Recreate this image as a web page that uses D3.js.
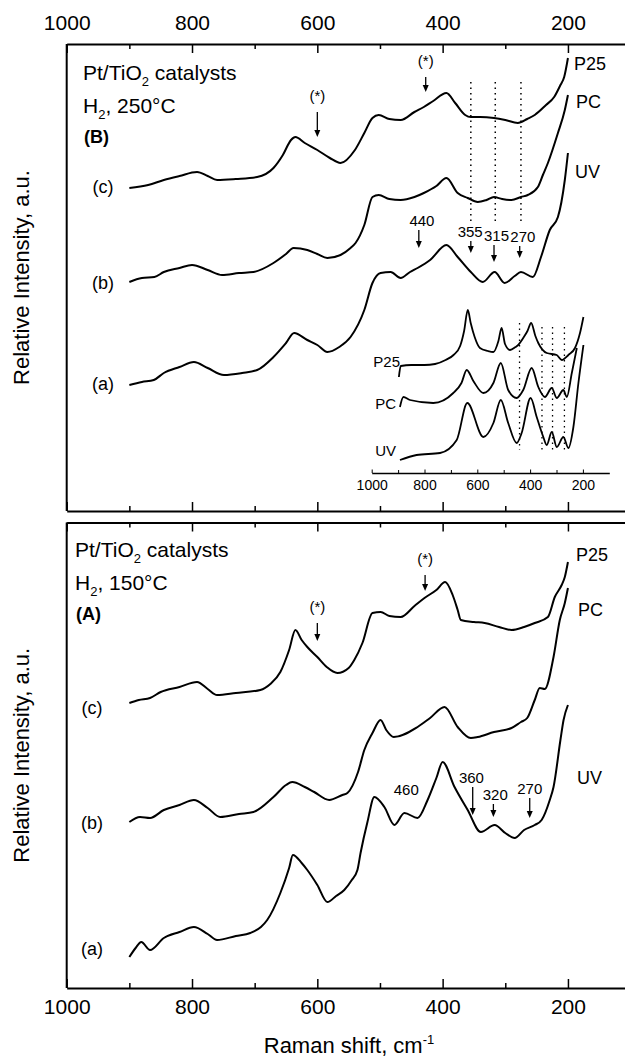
<!DOCTYPE html>
<html>
<head>
<meta charset="utf-8">
<script src="https://cdn.jsdelivr.net/npm/d3@7"></script>
<style>
  body { margin: 0; background: #fff; }
  svg text { font-family: "Liberation Sans", Arial, sans-serif; fill: #000; }
</style>
</head>
<body>
<div id="chart"></div>
<script>
// Raman shift ticks (cm-1)
const majorTicks = [1000, 800, 600, 400, 200];
const minorTicks = [900, 700, 500, 300, 100];

// Panel B (H2, 250°C): [Raman shift, relative intensity]
const b250_P25 = [[900,323],[870,326],[845,331],[820,335],[792,339],[775,335],[760,331],[730,332],[696,334],[670,343],[655,356],[642,371],[635,374],[620,368],[600,361],[580,353],[563,348],[540,361],[525,378],[512,393],[502,396],[485,392],[467,391],[445,399],[430,404],[415,410],[394,418],[380,408],[364,396],[355,394],[340,394],[318,393],[300,391],[280,388],[265,392],[253,396],[235,406],[222,414],[212,426],[206,434],[200,453]];
const b250_PC = [[900,229],[880,233],[860,234],[845,239],[820,243],[800,246],[775,241],[752,236],[725,238],[702,239],[670,248],[650,257],[638,263],[616,261],[600,257],[584,253],[563,256],[547,263],[539,268],[525,286],[512,314],[502,316],[485,312],[467,311],[445,314],[430,318],[410,325],[394,333],[376,318],[360,313],[344,309],[330,311],[318,314],[305,312],[290,311],[275,314],[264,316],[248,324],[240,336],[232,348],[216,378],[205,401],[200,416]];
const b250_UV = [[900,126],[880,129],[861,131],[845,138],[820,144],[797,149],[775,143],[749,136],[720,138],[696,141],[670,154],[650,168],[637,178],[616,171],[600,166],[584,159],[565,164],[547,174],[525,201],[512,228],[499,238],[483,239],[467,233],[452,239],[440,243],[420,251],[394,266],[376,254],[355,239],[336,229],[317,239],[301,228],[285,235],[275,239],[256,234],[243,254],[229,281],[216,294],[205,331],[200,358]];

// Inset of panel B
const inset_P25 = [[897,134],[890,145],[850,146],[800,146],[760,147],[720,151],[690,156],[665,165],[650,180],[636,201],[625,188],[610,174],[590,163],[560,160],[539,159],[520,170],[508,183],[495,167],[476,161],[455,164],[445,166],[426,173],[410,180],[396,188],[380,175],[369,168],[337,158],[299,156],[280,151],[255,156],[230,163],[211,178],[198,194]];
const inset_PC = [[893,104],[880,114],[855,111],[767,108],[691,118],[660,128],[640,141],[615,130],[577,118],[539,128],[511,148],[483,121],[451,113],[426,121],[394,143],[369,124],[344,114],[318,123],[299,113],[274,121],[261,114],[242,138],[223,163]];
const inset_UV = [[893,51],[830,56],[741,58],[678,71],[638,108],[577,74],[539,88],[511,111],[483,88],[451,68],[432,78],[398,113],[375,94],[350,74],[337,66],[318,79],[299,64],[274,74],[255,63],[236,84],[217,128],[198,166]];
const insetLines = [440, 355, 315, 270];

// Panel A (H2, 150°C)
const a150_P25 = [[900,285],[885,288],[867,290],[850,296],[820,301],[792,306],[775,299],[760,293],[730,295],[691,298],[675,304],[659,316],[645,338],[635,358],[625,348],[616,341],[600,331],[585,321],[568,315],[550,320],[541,328],[528,345],[512,375],[499,376],[485,372],[467,371],[445,382],[429,390],[410,398],[396,406],[384,393],[376,378],[371,368],[350,366],[333,365],[310,361],[290,358],[270,361],[253,365],[232,371],[221,391],[210,403],[205,411],[200,426]];
const a150_PC = [[900,166],[883,171],[867,170],[845,178],[820,183],[797,188],[775,180],[755,171],[725,174],[702,176],[670,191],[650,203],[640,206],[620,201],[605,196],[581,188],[560,193],[552,195],[535,216],[525,238],[512,255],[499,268],[490,258],[478,251],[440,261],[420,270],[397,281],[376,261],[355,250],[344,251],[318,256],[290,260],[275,266],[265,270],[253,288],[245,300],[237,299],[223,331],[213,368],[205,385],[200,400]];
const a150_UV = [[900,31],[890,40],[881,46],[867,38],[845,50],[820,56],[797,61],[775,54],[760,48],[730,52],[707,55],[690,61],[680,68],[659,95],[645,120],[639,133],[625,125],[616,118],[600,103],[584,86],[570,92],[557,98],[545,108],[536,118],[531,135],[520,166],[509,191],[493,181],[477,163],[461,175],[440,170],[424,188],[410,210],[400,226],[381,201],[360,178],[339,156],[317,163],[300,155],[285,150],[270,158],[253,163],[242,168],[229,188],[223,201],[212,248],[207,268],[200,283]];

// peak markers: label, text shift, arrow shift, text level, arrow tip level
const peaksB = [
  { label: "440", shift: 433, arrow: 438, text: 285, tip: 263 },
  { label: "355", shift: 356, arrow: 355, text: 274, tip: 258 },
  { label: "315", shift: 314, arrow: 318, text: 270, tip: 249 },
  { label: "270", shift: 272, arrow: 277, text: 269, tip: 253 }
];
const peaksA = [
  { label: "460", shift: 458, arrow: null, text: 193, tip: null },
  { label: "360", shift: 354, arrow: 352, text: 205, tip: 173 },
  { label: "320", shift: 316, arrow: 319, text: 188, tip: 171 },
  { label: "270", shift: 261, arrow: 261, text: 194, tip: 170 }
];
const starsB = [ { shift: 600, text: 410, tip: 374 }, { shift: 427, text: 445, tip: 419 } ];
const starsA = [ { shift: 600, text: 376, tip: 347 }, { shift: 428, text: 424, tip: 397 } ];
const dottedB = [355, 316, 275];

const width = 625, height = 1061;
const svg = d3.select('#chart').append('svg')
  .attr('width', width).attr('height', height);

const x = d3.scaleLinear().domain([1000, 100]).range([66.7, 630.6]);
const yB = d3.scaleLinear().domain([0, 467]).range([511, 44]);
const yA = d3.scaleLinear().domain([0, 465.5]).range([988, 522.5]);
const xi = d3.scaleLinear().domain([1000, 100]).range([371.7, 609.3]);

function frame(y, showTop, showBottom) {
  const [b, t] = y.range();
  // major / minor ticks on top border
  const top = svg.append('g').attr('transform', `translate(0,${t})`);
  top.call(d3.axisTop(x).tickValues(majorTicks).tickSizeInner(-9).tickSizeOuter(0)
    .tickPadding(14).tickFormat(showTop ? d3.format('d') : ''));
  top.append('g').call(d3.axisTop(x).tickValues(minorTicks).tickSize(-5).tickFormat(''))
    .select('.domain').remove();
  const bot = svg.append('g').attr('transform', `translate(0,${b})`);
  bot.call(d3.axisBottom(x).tickValues(majorTicks).tickSizeInner(-9).tickSizeOuter(0)
    .tickPadding(11).tickFormat(showBottom ? d3.format('d') : ''));
  bot.append('g').call(d3.axisBottom(x).tickValues(minorTicks).tickSize(-5).tickFormat(''))
    .select('.domain').remove();
  svg.selectAll('.tick text').attr('font-size', 21).attr('font-family', '"Liberation Sans", Arial, sans-serif');
  svg.append('line').attr('x1', x(1000)).attr('x2', x(1000)).attr('y1', t).attr('y2', b)
    .attr('stroke', '#000').attr('stroke-width', 2);
}
frame(yB, true, false);
frame(yA, false, true);
svg.selectAll('.domain').attr('stroke-width', 2);
svg.selectAll('.tick line').attr('stroke-width', 1.5);

function spectrum(data, xs, ys, w) {
  svg.append('path').datum(data)
    .attr('fill', 'none').attr('stroke', '#000').attr('stroke-width', w)
    .attr('stroke-linejoin', 'round')
    .attr('d', d3.line().curve(d3.curveMonotoneX).x(d => xs(d[0])).y(d => ys(d[1])));
}
[b250_P25, b250_PC, b250_UV].forEach(d => spectrum(d, x, yB, 2));
[a150_P25, a150_PC, a150_UV].forEach(d => spectrum(d, x, yA, 2));
[inset_P25, inset_PC, inset_UV].forEach(d => spectrum(d, xi, yB, 1.8));

function text(px, py, str, size, anchor, weight) {
  return svg.append('text').attr('x', px).attr('y', py).attr('font-size', size)
    .attr('text-anchor', anchor || 'start').attr('font-weight', weight || 'normal').text(str);
}
function arrow(px, y1, y2) {
  svg.append('line').attr('x1', px).attr('x2', px).attr('y1', y1).attr('y2', y2 - 5)
    .attr('stroke', '#000').attr('stroke-width', 1.3);
  svg.append('path').attr('d', `M${px - 3},${y2 - 7}L${px + 3},${y2 - 7}L${px},${y2}Z`).attr('fill', '#000');
}

// dotted reference lines
dottedB.forEach(s => {
  svg.append('line').attr('x1', x(s)).attr('x2', x(s)).attr('y1', yB(429)).attr('y2', yB(289))
    .attr('stroke', '#000').attr('stroke-width', 1.5).attr('stroke-dasharray', '1.5,4');
});
insetLines.forEach((s, i) => {
  svg.append('line').attr('x1', xi(s)).attr('x2', xi(s)).attr('y1', yB(i === 0 ? 188 : 184)).attr('y2', yB(61))
    .attr('stroke', '#000').attr('stroke-width', 1.3).attr('stroke-dasharray', '1.5,4');
});

// inset axis
const ia = svg.append('g').attr('transform', `translate(0,${yB(38)})`);
ia.call(d3.axisBottom(xi).tickValues(majorTicks).tickSizeInner(-3.5).tickSizeOuter(0).tickPadding(7).tickFormat(d3.format('d')));
ia.append('g').call(d3.axisBottom(xi).tickValues(minorTicks.filter(v => v > 100)).tickSize(-3).tickFormat(''))
  .select('.domain').remove();
ia.select('.domain').attr('stroke-width', 1.3);
ia.selectAll('.tick text').attr('font-size', 14).attr('font-family', '"Liberation Sans", Arial, sans-serif');
text(400, yB(144), 'P25', 15, 'end');
text(396, yB(102), 'PC', 15, 'end');
text(396, yB(55), 'UV', 15, 'end');

// peak annotations
function peaks(list, ys) {
  list.forEach(p => {
    text(x(p.shift), ys(p.text), p.label, 15, 'middle');
    if (p.arrow !== null) arrow(x(p.arrow), ys(p.text) + 4, ys(p.tip));
  });
}
peaks(peaksB, yB);
peaks(peaksA, yA);
function stars(list, ys) {
  list.forEach(p => {
    text(x(p.shift), ys(p.text), '(*)', 15, 'middle');
    arrow(x(p.shift), ys(p.text) + 11, ys(p.tip));
  });
}
stars(starsB, yB);
stars(starsA, yA);

// panel titles
function title(px, py, temp, letter) {
  const t1 = text(px, py, 'Pt/TiO', 21);
  t1.append('tspan').attr('font-size', 13).attr('dy', 6).text('2');
  t1.append('tspan').attr('dy', -6).text(' catalysts');
  const t2 = text(px, py + 33, 'H', 21);
  t2.append('tspan').attr('font-size', 13).attr('dy', 6).text('2');
  t2.append('tspan').attr('dy', -6).text(', ' + temp);
  text(px + 1, py + 63, '(' + letter + ')', 18, 'start', 'bold');
}
title(83, 80, '250°C', 'B');
title(75, 557, '150°C', 'A');

// sample labels
text(103, 193, '(c)', 18, 'middle');
text(103, 289, '(b)', 18, 'middle');
text(103, 390, '(a)', 18, 'middle');
text(92, 714, '(c)', 18, 'middle');
text(92, 829, '(b)', 18, 'middle');
text(92, 955, '(a)', 18, 'middle');
text(574, 70, 'P25', 18);
text(576, 108, 'PC', 18);
text(575, 178, 'UV', 18);
text(576, 561, 'P25', 18);
text(578, 616, 'PC', 18);
text(577, 784, 'UV', 18);

// axis titles
const xl = text(349, 1053, 'Raman shift, cm', 22, 'middle');
xl.append('tspan').attr('font-size', 13).attr('dy', -9).text('-1');
svg.append('text').attr('transform', `translate(29,${(44 + 511) / 2}) rotate(-90)`)
  .attr('text-anchor', 'middle').attr('font-size', 22).text('Relative Intensity, a.u.');
svg.append('text').attr('transform', `translate(29,${(522.5 + 988) / 2}) rotate(-90)`)
  .attr('text-anchor', 'middle').attr('font-size', 22).text('Relative Intensity, a.u.');
</script>
</body>
</html>
